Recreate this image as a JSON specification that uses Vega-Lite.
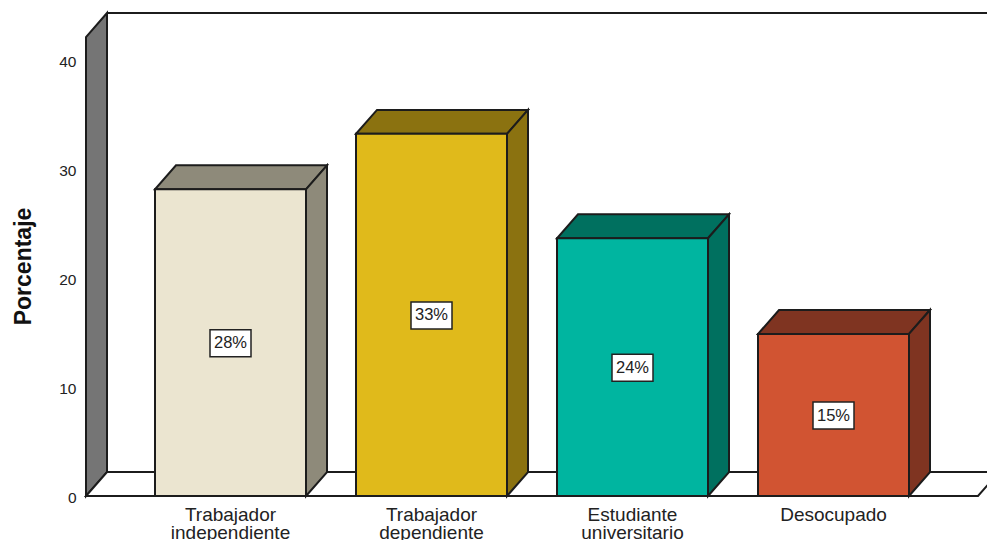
{
"$schema":"https://vega.github.io/schema/vega-lite/v6.json",
"width":901,"height":483,
"padding":{"left":86,"top":13,"right":0,"bottom":44},
"autosize":{"type":"none"},
"background":"white",
"config":{"view":{"stroke":null},"font":"Liberation Sans"},
"datasets":{
"bars":[
{"categoria":"Trabajador independiente","porcentaje":28.2,"medio":14.05,"etiqueta":"28%"},
{"categoria":"Trabajador dependiente","porcentaje":33.3,"medio":16.6,"etiqueta":"33%"},
{"categoria":"Estudiante universitario","porcentaje":23.7,"medio":11.8,"etiqueta":"24%"},
{"categoria":"Desocupado","porcentaje":14.9,"medio":7.4,"etiqueta":"15%"}
],
"caras":[
{"pieza":"pared","tono":"pared","x":0,"lo":0,"hi":42.2},
{"pieza":"pared","tono":"pared","x":21,"lo":2.2,"hi":44.41},
{"pieza":"suelo","tono":"suelo","x":0,"lo":0,"hi":0},
{"pieza":"suelo","tono":"suelo","x":21,"lo":0,"hi":2.2},
{"pieza":"suelo","tono":"suelo","x":892,"lo":0,"hi":2.2},
{"pieza":"suelo","tono":"suelo","x":913,"lo":2.2,"hi":2.2},
{"pieza":"a1","tono":"a","x":69,"lo":28.2,"hi":28.2},
{"pieza":"a1","tono":"a","x":90,"lo":28.2,"hi":30.4},
{"pieza":"a1","tono":"a","x":220,"lo":28.2,"hi":30.4},
{"pieza":"a1","tono":"a","x":241,"lo":30.4,"hi":30.4},
{"pieza":"a2","tono":"a","x":220,"lo":0,"hi":28.2},
{"pieza":"a2","tono":"a","x":241,"lo":2.2,"hi":30.4},
{"pieza":"b1","tono":"b","x":270,"lo":33.3,"hi":33.3},
{"pieza":"b1","tono":"b","x":291,"lo":33.3,"hi":35.5},
{"pieza":"b1","tono":"b","x":421,"lo":33.3,"hi":35.5},
{"pieza":"b1","tono":"b","x":442,"lo":35.5,"hi":35.5},
{"pieza":"b2","tono":"b","x":421,"lo":0,"hi":33.3},
{"pieza":"b2","tono":"b","x":442,"lo":2.2,"hi":35.5},
{"pieza":"c1","tono":"c","x":471,"lo":23.7,"hi":23.7},
{"pieza":"c1","tono":"c","x":492,"lo":23.7,"hi":25.9},
{"pieza":"c1","tono":"c","x":622,"lo":23.7,"hi":25.9},
{"pieza":"c1","tono":"c","x":643,"lo":25.9,"hi":25.9},
{"pieza":"c2","tono":"c","x":622,"lo":0,"hi":23.7},
{"pieza":"c2","tono":"c","x":643,"lo":2.2,"hi":25.9},
{"pieza":"d1","tono":"d","x":672,"lo":14.9,"hi":14.9},
{"pieza":"d1","tono":"d","x":693,"lo":14.9,"hi":17.1},
{"pieza":"d1","tono":"d","x":823,"lo":14.9,"hi":17.1},
{"pieza":"d1","tono":"d","x":844,"lo":17.1,"hi":17.1},
{"pieza":"d2","tono":"d","x":823,"lo":0,"hi":14.9},
{"pieza":"d2","tono":"d","x":844,"lo":2.2,"hi":17.1}
],
"borde":[{"x":21,"x2":901,"y":44.41}]
},
"encoding":{
"y":{"type":"quantitative","scale":{"domain":[0,44.41],"nice":false}}
},
"layer":[
{"data":{"name":"caras"},
 "mark":{"type":"area","stroke":"#1c1c1c","strokeWidth":2,"opacity":1,"strokeJoin":"miter"},
 "encoding":{
  "x":{"field":"x","type":"quantitative","scale":{"domain":[0,901],"nice":false,"zero":false},"axis":null},
  "y":{"field":"lo","type":"quantitative","scale":{"domain":[0,44.41],"nice":false},
   "axis":{"values":[0,10,20,30,40],"title":"Porcentaje","titleFont":"Liberation Sans","titleFontSize":23,"titleFontWeight":"bold","titleColor":"#111","titleX":-63,"titleY":253,"titleBaseline":"middle","labelFontSize":15.5,"labelColor":"#222","labelPadding":10,"labelOffset":1,"ticks":false,"domain":false,"grid":false}},
  "y2":{"field":"hi"},
  "detail":{"field":"pieza"},
  "color":{"field":"tono","type":"nominal","legend":null,"scale":{"domain":["pared","suelo","a","b","c","d"],"range":["#757575","#ffffff","#8e8a7a","#8b7210","#00705f","#7f3421"]}}
 }},
{"data":{"name":"borde"},
 "mark":{"type":"rule","stroke":"#1c1c1c","strokeWidth":2},
 "encoding":{
  "x":{"field":"x","type":"quantitative","scale":{"domain":[0,901],"nice":false,"zero":false},"axis":null},
  "x2":{"field":"x2"},
  "y":{"field":"y","type":"quantitative"}
 }},
{"data":{"name":"bars"},
 "mark":{"type":"bar","stroke":"#1c1c1c","strokeWidth":2},
 "encoding":{
  "x":{"field":"categoria","type":"nominal","sort":null,"scale":{"type":"band","paddingInner":0.24876,"paddingOuter":0.36567,"align":0.4694},
   "axis":{"title":null,"labelAngle":0,"labelExpr":"split(datum.value,' ')","labelFontSize":19,"labelLineHeight":18,"labelColor":"#222","labelPadding":9,"ticks":false,"domain":false,"grid":false,"labelLimit":300}},
  "y":{"field":"porcentaje","type":"quantitative"},
  "color":{"field":"categoria","type":"nominal","sort":null,"legend":null,"scale":{"range":["#ebe5d0","#e0ba1b","#00b5a0","#d15432"]}}
 }},
{"data":{"name":"bars"},
 "mark":{"type":"point","filled":true,"fill":"white","opacity":1,"stroke":"#222","strokeWidth":1.5,"size":1681,"shape":"M-1,-0.66H1V0.66H-1Z"},
 "encoding":{
  "x":{"field":"categoria","type":"nominal","sort":null,"bandPosition":0.5,"scale":{"type":"band","paddingInner":0.24876,"paddingOuter":0.36567,"align":0.4694},"axis":null},
  "y":{"field":"medio","type":"quantitative"}
 }},
{"data":{"name":"bars"},
 "mark":{"type":"text","fontSize":16.5,"color":"#222","baseline":"middle","align":"center"},
 "encoding":{
  "x":{"field":"categoria","type":"nominal","sort":null,"bandPosition":0.5,"scale":{"type":"band","paddingInner":0.24876,"paddingOuter":0.36567,"align":0.4694},"axis":null},
  "y":{"field":"medio","type":"quantitative"},
  "text":{"field":"etiqueta","type":"nominal"}
 }}
],
"resolve":{"scale":{"x":"independent","color":"independent"},"axis":{"x":"independent"}}
}
